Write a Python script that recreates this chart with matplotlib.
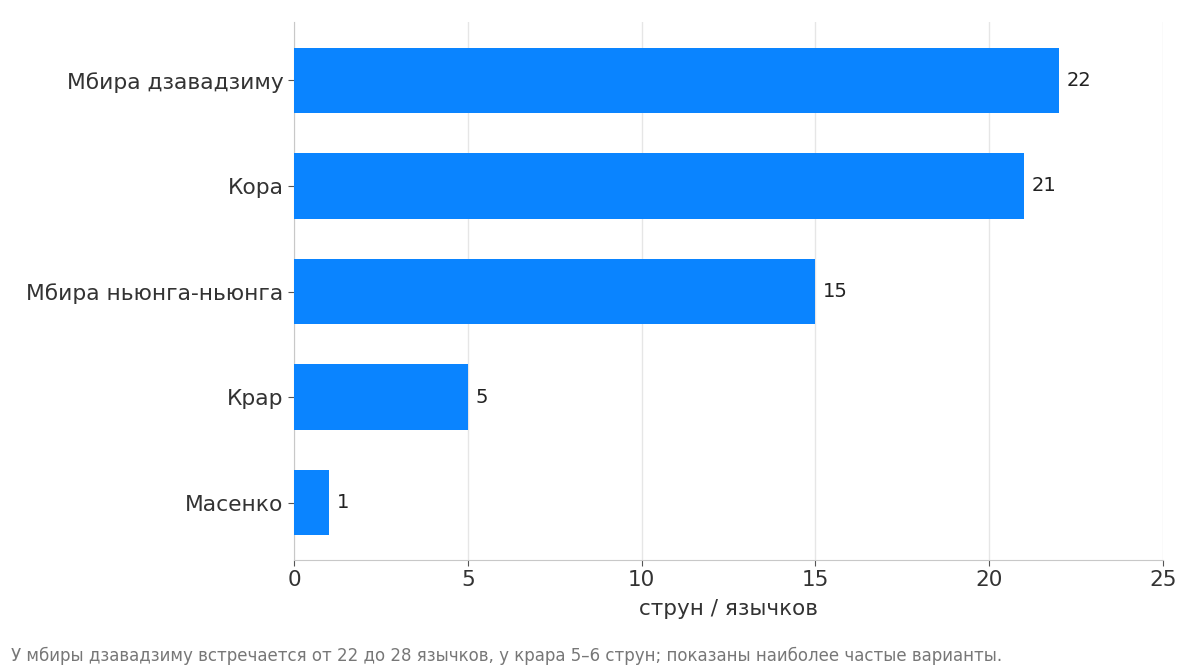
import matplotlib.pyplot as plt

plt.rcParams['font.family'] = ['DejaVu Sans']

instruments = ["Мбира дзавадзиму", "Кора", "Мбира ньюнга-ньюнга", "Крар", "Масенко"]
strings = [22, 21, 15, 5, 1]
xticks = [0, 5, 10, 15, 20, 25]

fig, ax = plt.subplots(figsize=(12, 6.72), dpi=100)
fig.subplots_adjust(left=0.245, right=0.969, top=0.967, bottom=0.167)

ypos = list(range(len(instruments)))
bars = ax.barh(ypos, strings, height=0.62, color="#0A84FF", zorder=3)
ax.set_yticks(ypos)
ax.set_yticklabels(instruments)
ax.set_ylim(len(instruments) - 0.46, -0.55)
ax.set_xlim(0, 25)
ax.set_xticks(xticks)

for b, v in zip(bars, strings):
    ax.text(b.get_width() + 0.22, b.get_y() + b.get_height() / 2, str(v),
            va="center", ha="left", fontsize=14, color="#222222")

ax.grid(axis="x", color="#e6e6e6", lw=1, zorder=0)
for s in ["top", "right"]:
    ax.spines[s].set_visible(False)
for s in ["left", "bottom"]:
    ax.spines[s].set_color("#c8c8c8")
ax.tick_params(axis="both", colors="#555555", labelcolor="#333333", length=4)
ax.tick_params(axis="x", labelsize=15.5)
ax.tick_params(axis="y", labelsize=15.7)
ax.set_xlabel("струн / язычков", fontsize=15.5, color="#333333", labelpad=6)

fig.text(0.009, 0.016,
         "У мбиры дзавадзиму встречается от 22 до 28 язычков, у крара 5–6 струн; показаны наиболее частые варианты.",
         fontsize=12, color="#777777")

plt.savefig("out.png", dpi=100)
